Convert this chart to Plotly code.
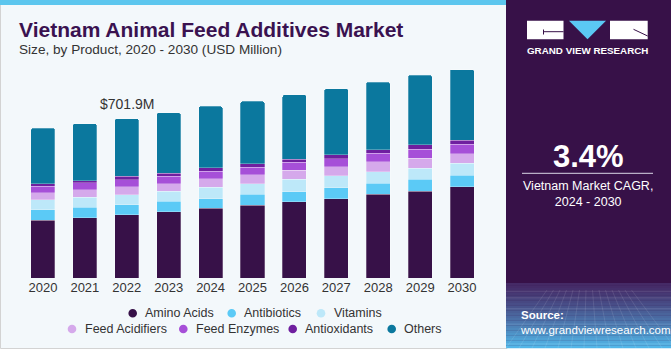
import plotly.graph_objects as go

# ---------------- data ----------------
years = ["2020", "2021", "2022", "2023", "2024", "2025", "2026", "2027", "2028", "2029", "2030"]
amino_acids = [255, 266, 278, 291, 307, 320, 335, 349, 368, 382, 402]
antibiotics = [45, 45, 44, 47, 43, 48, 45, 48, 50, 52, 50]
vitamins = [44, 44, 45, 43, 50, 47, 54, 53, 49, 50, 53]
feed_acidifiers = [31, 34, 35, 34, 38, 40, 40, 41, 44, 44, 43]
feed_enzymes = [28, 31, 31, 32, 32, 32, 35, 35, 38, 40, 41]
antioxidants = [13, 8, 14.5, 14.5, 14.5, 16, 14.5, 16, 16, 18, 18]
others = [244, 252, 254.4, 266, 271, 275, 283, 291, 297, 307, 311]

series_names = ["Amino Acids", "Antibiotics", "Vitamins", "Feed Acidifiers",
                "Feed Enzymes", "Antioxidants", "Others"]
series_values = [amino_acids, antibiotics, vitamins, feed_acidifiers,
                 feed_enzymes, antioxidants, others]
series_colors = ["#371148", "#5BCAF6", "#BDE8F9", "#D5A9EB",
                 "#A64FD8", "#6F1F9F", "#0B789E"]

highlight_year = "2022"
cagr_text = "3.4%"

# ---------------- geometry ----------------
W, H = 671, 350
L, R, T, B = 22, 188, 60, 72
PW, PH = W - L - R, H - T - B


def px(x):
    return (x - L) / PW


def py(y):
    return 1 - (y - T) / PH


fig = go.Figure()
for name, vals, col in zip(series_names, series_values, series_colors):
    fig.add_trace(go.Bar(
        x=years, y=vals, name=name, marker_color=col,
        marker_line=dict(width=0.6, color="rgba(255,255,255,0.45)"),
        showlegend=False,
    ))

shapes = []
annotations = []

# card background + top strip
shapes.append(dict(type="rect", xref="paper", yref="paper", layer="below",
                   x0=px(0.5), x1=px(507), y0=py(348.5), y1=py(0),
                   fillcolor="#F3F8FB", line=dict(color="#D3D3D3", width=1)))
shapes.append(dict(type="rect", xref="paper", yref="paper", layer="below",
                   x0=px(0), x1=px(507), y0=py(5), y1=py(0),
                   fillcolor="#5CC6EE", line=dict(width=0)))

# right panel
shapes.append(dict(type="rect", xref="paper", yref="paper", layer="below",
                   x0=px(506), x1=px(671), y0=py(348), y1=py(0),
                   fillcolor="#371148", line=dict(width=0)))
# gradient at the bottom of the panel
n = 26
g_top, g_bot = 283.0, 348.0
c0 = (0x45, 0x2A, 0x66)
c1 = (0x52, 0xB6, 0xE8)
for i in range(n):
    t = i / (n - 1)
    t2 = t ** 1.2
    c = tuple(int(c0[k] + (c1[k] - c0[k]) * t2) for k in range(3))
    y0 = g_top + (g_bot - g_top) * i / n
    y1 = g_top + (g_bot - g_top) * (i + 1) / n
    shapes.append(dict(type="rect", xref="paper", yref="paper", layer="below",
                       x0=px(506), x1=px(671), y0=py(y1 + 0.3), y1=py(y0),
                       fillcolor="rgb(%d,%d,%d)" % c, line=dict(width=0)))
# faint grid lines in gradient
for k in range(1, 6):
    yy = g_top + 6 + k * k * 2.2
    shapes.append(dict(type="line", xref="paper", yref="paper", layer="below",
                       x0=px(506), x1=px(671), y0=py(yy), y1=py(yy),
                       line=dict(color="rgba(255,255,255,0.12)", width=1)))
for k in range(0, 14):
    xb = 506 + k * 13
    shapes.append(dict(type="line", xref="paper", yref="paper", layer="below",
                       x0=px(588 + (xb - 588) * 0.5), x1=px(xb), y0=py(290), y1=py(348),
                       line=dict(color="rgba(255,255,255,0.10)", width=1)))

# logo
shapes.append(dict(type="rect", xref="paper", yref="paper",
                   x0=px(527), x1=px(563.5), y0=py(39.3), y1=py(20.7),
                   fillcolor="white", line=dict(width=0)))
shapes.append(dict(type="path", xref="paper", yref="paper",
                   path="M %f %f L %f %f L %f %f Z" % (px(569), py(20.7), px(606), py(20.7), px(587.5), py(39.3)),
                   fillcolor="#5BC8F4", line=dict(width=0)))
shapes.append(dict(type="rect", xref="paper", yref="paper",
                   x0=px(610), x1=px(647.7), y0=py(39.3), y1=py(20.7),
                   fillcolor="white", line=dict(width=0)))
shapes.append(dict(type="line", xref="paper", yref="paper",
                   x0=px(543.5), x1=px(563.5), y0=py(31.7), y1=py(31.7),
                   line=dict(color="#371148", width=1)))
shapes.append(dict(type="line", xref="paper", yref="paper",
                   x0=px(543.5), x1=px(543.5), y0=py(29.5), y1=py(34.5),
                   line=dict(color="#371148", width=1)))
shapes.append(dict(type="line", xref="paper", yref="paper",
                   x0=px(633.5), x1=px(647.7), y0=py(29.3), y1=py(36),
                   line=dict(color="#371148", width=1)))
annotations.append(dict(xref="paper", yref="paper", x=px(587.7), y=py(50.7),
                        text="<b>GRAND VIEW RESEARCH</b>", showarrow=False,
                        xanchor="center", yanchor="middle",
                        font=dict(family="Liberation Sans", size=9.8, color="white")))

# CAGR
annotations.append(dict(xref="paper", yref="paper", x=px(588), y=py(156),
                        text="<b>%s</b>" % cagr_text, showarrow=False,
                        xanchor="center", yanchor="middle",
                        font=dict(family="Liberation Sans", size=31, color="white")))
shapes.append(dict(type="line", xref="paper", yref="paper",
                   x0=px(522), x1=px(653), y0=py(173.3), y1=py(173.3),
                   line=dict(color="#B9AFC6", width=1.2)))
annotations.append(dict(xref="paper", yref="paper", x=px(588), y=py(193.5),
                        text="Vietnam Market CAGR,<br>2024 - 2030", showarrow=False,
                        xanchor="center", yanchor="middle", align="center",
                        font=dict(family="Liberation Sans", size=12.5, color="white")))

# source
annotations.append(dict(xref="paper", yref="paper", x=px(518), y=py(322.5),
                        text="<b>Source:</b><br>www.grandviewresearch.com", showarrow=False,
                        xanchor="left", yanchor="middle", align="left",
                        font=dict(family="Liberation Sans", size=11.5, color="white")))

# title
annotations.append(dict(xref="paper", yref="paper", x=px(17), y=py(29.5),
                        text="<b>Vietnam Animal Feed Additives Market</b>", showarrow=False,
                        xanchor="left", yanchor="middle",
                        font=dict(family="Liberation Sans", size=21, color="#3A1250")))
annotations.append(dict(xref="paper", yref="paper", x=px(17), y=py(49.3),
                        text="Size, by Product, 2020 - 2030 (USD Million)", showarrow=False,
                        xanchor="left", yanchor="middle",
                        font=dict(family="Liberation Sans", size=13.6, color="#333333")))

# total label
hi = years.index(highlight_year)
total = sum(v[hi] for v in series_values)
annotations.append(dict(x=hi, y=total, xref="x", yref="y",
                        text="$%.1fM" % total, showarrow=False,
                        xanchor="center", yanchor="bottom", yshift=5,
                        font=dict(family="Liberation Sans", size=14, color="#333333")))

# custom legend
legend_pos = [(132.7, 313.3), (231.7, 313.3), (321, 313.3),
              (72, 329), (183.3, 329), (292.7, 329), (391.7, 329)]
for name, col, (mx, my) in zip(series_names, series_colors, legend_pos):
    r = 4.3
    shapes.append(dict(type="circle", xref="paper", yref="paper",
                       x0=px(mx - r), x1=px(mx + r), y0=py(my + r), y1=py(my - r),
                       fillcolor=col, line=dict(width=0)))
    annotations.append(dict(xref="paper", yref="paper", x=px(mx + 10.5), y=py(my),
                            text=name, showarrow=False, xanchor="left", yanchor="middle",
                            font=dict(family="Liberation Sans", size=12.5, color="#333333")))

fig.update_layout(
    width=W, height=H,
    margin=dict(l=L, r=R, t=T, b=B, pad=0),
    barmode="stack", bargap=0.427,
    barcornerradius=2,
    paper_bgcolor="white", plot_bgcolor="rgba(0,0,0,0)",
    shapes=shapes, annotations=annotations,
    font=dict(family="Liberation Sans", color="#333333"),
    xaxis=dict(type="category", range=[-0.5, 10.5], showgrid=False, showline=False, zeroline=False,
               ticks="", tickfont=dict(size=13, color="#333333"), fixedrange=True),
    yaxis=dict(range=[0, 960], visible=False, fixedrange=True),
    showlegend=False,
)

fig.write_html("out.html")
